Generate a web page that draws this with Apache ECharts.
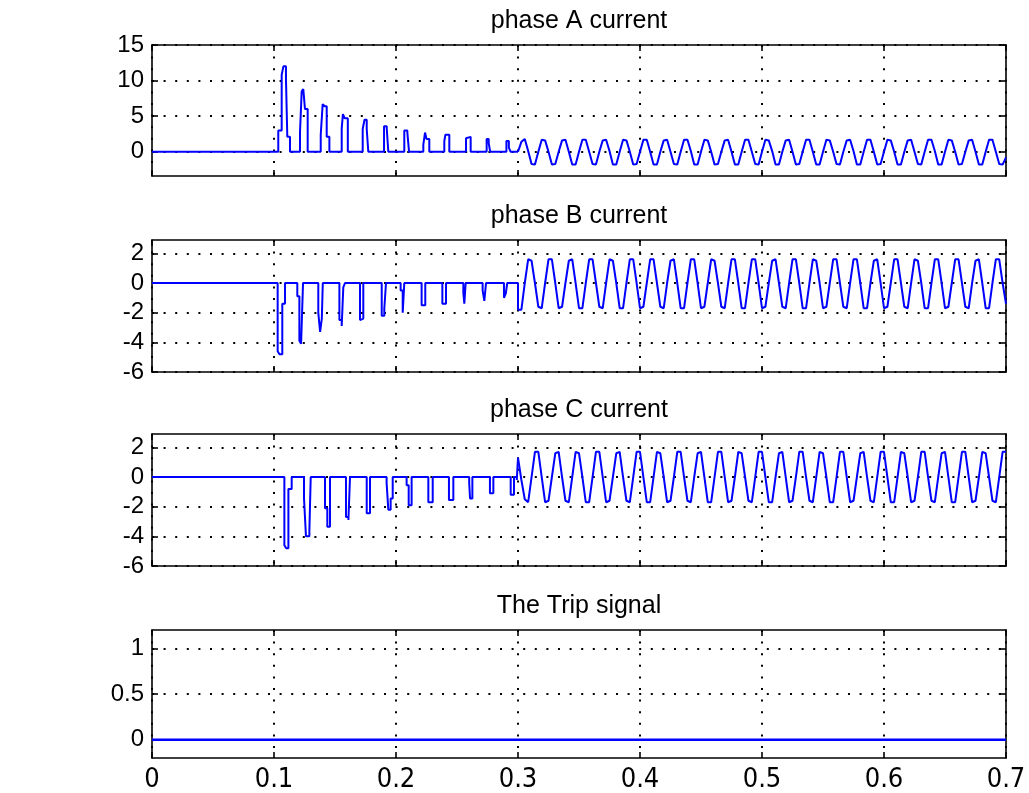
<!DOCTYPE html>
<html><head><meta charset="utf-8">
<script src="https://cdn.jsdelivr.net/npm/echarts@6/dist/echarts.min.js"></script>
<style>html,body{margin:0;padding:0;background:#fff}#c{width:1029px;height:793px}</style>
</head><body><div id="c"></div>
<script>
// ---------------- data ----------------
const titles = ['phase A current', 'phase B current', 'phase C current', 'The Trip signal'];
const xTicks = [0, 0.1, 0.2, 0.3, 0.4, 0.5, 0.6, 0.7];
const yTicksA = [0, 5, 10, 15];
const yTicksB = [-6, -4, -2, 0, 2];
const yTicksC = [-6, -4, -2, 0, 2];
const yTicksTrip = [0, 0.5, 1];

// fault period (0.1 - 0.3 s): change points [time, new value] (held until next point)
const faultA = [[0,0],
 [0.1035,3.0],[0.1063,10.8],[0.1077,12.0],[0.1098,10.3],[0.1109,2.1],[0.1131,0],
 [0.1213,2.7],[0.1227,8.5],[0.1240,8.8],[0.1254,6.0],[0.1276,0],
 [0.1383,2.4],[0.1399,6.7],[0.1415,6.4],[0.1432,2.1],[0.1454,0],
 [0.1555,3.3],[0.1565,5.3],[0.1580,4.7],[0.1605,0],
 [0.1727,3.2],[0.1742,4.5],[0.1760,3.2],[0.1773,0],
 [0.1902,3.6],[0.1924,3.3],[0.1937,0],
 [0.2068,3.0],[0.2093,2.7],[0.2107,0],
 [0.2224,1.0],[0.2238,2.7],[0.2250,1.8],[0.2273,0],
 [0.2396,1.5],[0.2405,2.4],[0.2437,0],
 [0.2574,1.9],[0.2585,2.1],[0.2612,0],
 [0.2743,1.8],[0.2760,1.2],[0.2772,0],
 [0.2905,1.5],[0.2925,0.6],[0.2940,0],
 [0.3000,0]];
const faultB = [[0,0],
 [0.1030,-4.6],[0.1045,-4.8],[0.1068,-1.4],[0.1090,0],
 [0.1191,-0.9],[0.1208,-3.9],[0.1222,-4.1],[0.1238,0],
 [0.1363,-2.0],[0.1378,-3.3],[0.1392,-2.4],[0.1400,0],
 [0.1536,-2.5],[0.1555,-2.9],[0.1568,-0.3],[0.1582,0],
 [0.1705,-2.5],[0.1720,-2.4],[0.1732,0],
 [0.1883,-2.2],[0.1904,-1.75],[0.1918,0],
 [0.2038,-0.5],[0.2055,-2.0],[0.2068,0],
 [0.2210,-1.5],[0.2240,0],
 [0.2380,-1.4],[0.2410,0],
 [0.2552,-0.65],[0.2560,-1.4],[0.2571,0],
 [0.2710,-0.5],[0.2724,-1.2],[0.2738,0],
 [0.2885,-1.0],[0.2900,-0.7],[0.2912,0],
 [0.3000,-1.8]];
const faultC = [[0,0],
 [0.1085,-4.6],[0.1100,-4.8],[0.1118,-0.8],[0.1145,0],
 [0.1246,-1.45],[0.1262,-4.0],[0.1290,-3.6],[0.1301,0],
 [0.1418,-2.1],[0.1437,-3.35],[0.1459,0],
 [0.1590,-2.7],[0.1610,-2.9],[0.1623,0],
 [0.1760,-2.45],[0.1787,0],
 [0.1923,-0.4],[0.1937,-2.2],[0.1956,-1.45],[0.1973,0],
 [0.2087,-0.55],[0.2104,-1.9],[0.2128,0],
 [0.2265,-1.7],[0.2301,0],
 [0.2434,-1.55],[0.2470,0],
 [0.2600,-0.4],[0.2607,-1.45],[0.2626,0],
 [0.2770,-1.1],[0.2798,0],
 [0.2940,-1.2],[0.2967,0],
 [0.2990,-0.2],[0.3000,1.3]];

// steady period: samples every 1/360 s from 0.3 s to 0.7 s
const steadyStart = 0.3;
const sampleRate = 360;
const steadyA = [
 0,1.4,1.8,0.1,-1.7,-1.8,  0,1.7,1.6,0,-1.8,-1.7,  0,1.6,1.7,0,-1.8,-1.8,  0,1.7,1.7,0,-1.7,-1.8,
 0,1.6,1.7,0.1,-1.8,-1.8,  0,1.7,1.6,0,-1.8,-1.7,  0,1.7,1.7,0,-1.8,-1.8,  0,1.6,1.7,0,-1.7,-1.8,
 0,1.7,1.7,0.1,-1.8,-1.8,  0,1.7,1.6,0,-1.8,-1.7,  0,1.6,1.7,0,-1.8,-1.8,  0,1.7,1.7,0,-1.7,-1.8,
 0,1.7,1.6,0.1,-1.8,-1.8,  0,1.6,1.7,0,-1.8,-1.7,  0,1.7,1.7,0,-1.8,-1.8,  0,1.7,1.6,0,-1.7,-1.8,
 0,1.6,1.7,0.1,-1.8,-1.8,  0,1.7,1.7,0,-1.8,-1.7,  0,1.7,1.6,0,-1.8,-1.8,  0,1.6,1.7,0,-1.7,-1.8,
 0,1.7,1.7,0.1,-1.8,-1.8,  0,1.7,1.6,0,-1.8,-1.7,  0,1.6,1.7,0,-1.8,-1.8,  0,1.7,1.7,0,-1.7,-1.8,
 -0.8];
const steadyB = [
 -1.8,-1.8,0,1.6,1.5,0,  -1.6,-1.7,0,1.6,1.6,0,  -1.7,-1.6,0,1.5,1.6,0,  -1.7,-1.7,0,1.6,1.6,0,
 -1.6,-1.7,0,1.6,1.5,0,  -1.7,-1.7,0,1.6,1.6,0,  -1.7,-1.6,0,1.6,1.6,0,  -1.6,-1.7,0,1.5,1.6,0,
 -1.7,-1.7,0,1.6,1.6,0,  -1.7,-1.6,0,1.6,1.5,0,  -1.6,-1.7,0,1.6,1.6,0,  -1.7,-1.7,0,1.6,1.6,0,
 -1.7,-1.6,0,1.5,1.6,0,  -1.6,-1.7,0,1.6,1.6,0,  -1.7,-1.7,0,1.6,1.5,0,  -1.7,-1.6,0,1.6,1.6,0,
 -1.6,-1.7,0,1.6,1.6,0,  -1.7,-1.7,0,1.5,1.6,0,  -1.7,-1.6,0,1.6,1.6,0,  -1.6,-1.7,0,1.6,1.5,0,
 -1.7,-1.7,0,1.6,1.6,0,  -1.7,-1.6,0,1.6,1.6,0,  -1.6,-1.7,0,1.5,1.6,0,  -1.7,-1.7,0,1.6,1.6,0,
 -1.4];
const steadyC = [
 1.3,-0.2,-1.5,-1.7,0,1.7,  1.7,0,-1.7,-1.6,0,1.6,  1.7,0,-1.6,-1.7,0,1.7,  1.6,0,-1.7,-1.7,0,1.7,
 1.7,0,-1.7,-1.6,0,1.6,  1.7,0,-1.6,-1.7,0,1.7,  1.7,0,-1.7,-1.7,0,1.7,  1.6,0,-1.7,-1.6,0,1.7,
 1.7,0,-1.6,-1.7,0,1.6,  1.7,0,-1.7,-1.7,0,1.7,  1.7,0,-1.7,-1.6,0,1.7,  1.6,0,-1.6,-1.7,0,1.7,
 1.7,0,-1.7,-1.7,0,1.6,  1.7,0,-1.7,-1.6,0,1.7,  1.7,0,-1.6,-1.7,0,1.7,  1.6,0,-1.7,-1.7,0,1.7,
 1.7,0,-1.7,-1.6,0,1.6,  1.7,0,-1.6,-1.7,0,1.7,  1.7,0,-1.7,-1.7,0,1.7,  1.6,0,-1.7,-1.6,0,1.7,
 1.7,0,-1.6,-1.7,0,1.6,  1.7,0,-1.7,-1.7,0,1.7,  1.7,0,-1.7,-1.6,0,1.7,  1.6,0,-1.6,-1.7,0,1.7,
 1.7];
const tripT = [0, 0.7];
const tripV = [0, 0];

// ---------------- chart ----------------
const steadyPairs = vals => vals.map((v, j) => [steadyStart + j / sampleRate, v]);
const FONT = 'Liberation Sans, Arial, sans-serif';
const XFONT = '"Liberation Sans Narrow", "Arial Narrow", "DejaVu Sans Condensed", sans-serif';
const BLUE = '#0000ff';
const grids = [
  {left:152, right:23, top:45, height:131},
  {left:152, right:23, top:240, height:132},
  {left:152, right:23, top:434, height:132},
  {left:152, right:23, top:630, height:130}
];
const yCfg = [
  {min:-3.4, max:15, ticks:yTicksA},
  {min:-6, max:2.9, ticks:yTicksB},
  {min:-6, max:2.9, ticks:yTicksC},
  {min:-0.2, max:1.2, ticks:yTicksTrip}
];
const lineAxis = {show:true, onZero:false, lineStyle:{color:'#000', width:1.6}};
const dots = {show:true, lineStyle:{color:'#000', width:2, type:[2,9.6]}};
const xAxes = [], yAxes = [];
grids.forEach((g, i) => {
  xAxes.push({type:'value', gridIndex:i, position:'bottom', min:0, max:0.7, interval:0.1,
    axisLine:lineAxis,
    axisTick:{show:true, inside:true, length:6, lineStyle:{color:'#000', width:1.6}},
    axisLabel:{show:i===3, color:'#000', fontFamily:XFONT, fontSize:27, margin:8,
      formatter: v => String(+v.toFixed(1))},
    splitLine:dots});
  xAxes.push({type:'value', gridIndex:i, position:'top', min:0, max:0.7, interval:0.1,
    axisLine:lineAxis,
    axisTick:{show:true, inside:true, length:6, lineStyle:{color:'#000', width:1.6}},
    axisLabel:{show:false}, splitLine:{show:false}});
  const c = yCfg[i];
  yAxes.push({type:'value', gridIndex:i, position:'left', min:c.min, max:c.max,
    axisLine:lineAxis,
    axisTick:{show:true, inside:true, length:6, customValues:c.ticks, lineStyle:{color:'#000', width:1.6}},
    axisLabel:{show:true, customValues:c.ticks, color:'#000', fontFamily:FONT, fontSize:24, margin:8},
    splitLine:dots});
  yAxes.push({type:'value', gridIndex:i, position:'right', min:c.min, max:c.max,
    axisLine:lineAxis,
    axisTick:{show:true, inside:true, length:6, customValues:c.ticks, lineStyle:{color:'#000', width:1.6}},
    axisLabel:{show:false}, splitLine:{show:false}});
});
const lineS = (xi, yi, data, step, w) => ({type:'line', xAxisIndex:xi, yAxisIndex:yi, data,
  step: step || false, showSymbol:false, symbol:'none', silent:true,
  lineStyle:{color:BLUE, width:w || 2}, clip:true});
const series = [
  lineS(0, 0, faultA, 'end'), lineS(0, 0, steadyPairs(steadyA)),
  lineS(2, 2, faultB, 'end'), lineS(2, 2, steadyPairs(steadyB)),
  lineS(4, 4, faultC, 'end'), lineS(4, 4, steadyPairs(steadyC)),
  lineS(6, 6, tripT.map((t, k) => [t, tripV[k]]), false, 2.5)
];
const graphics = titles.map((t, i) => ({type:'text', x:579, y:grids[i].top - 24,
  style:{text:t, fill:'#000', font:'25px ' + FONT, textAlign:'center', textVerticalAlign:'middle'}}));
const chart = echarts.init(document.getElementById('c'), null, {renderer:'canvas'});
chart.setOption({animation:false, backgroundColor:'#fff', grid:grids, xAxis:xAxes, yAxis:yAxes,
  series, graphic:graphics});
</script></body></html>
